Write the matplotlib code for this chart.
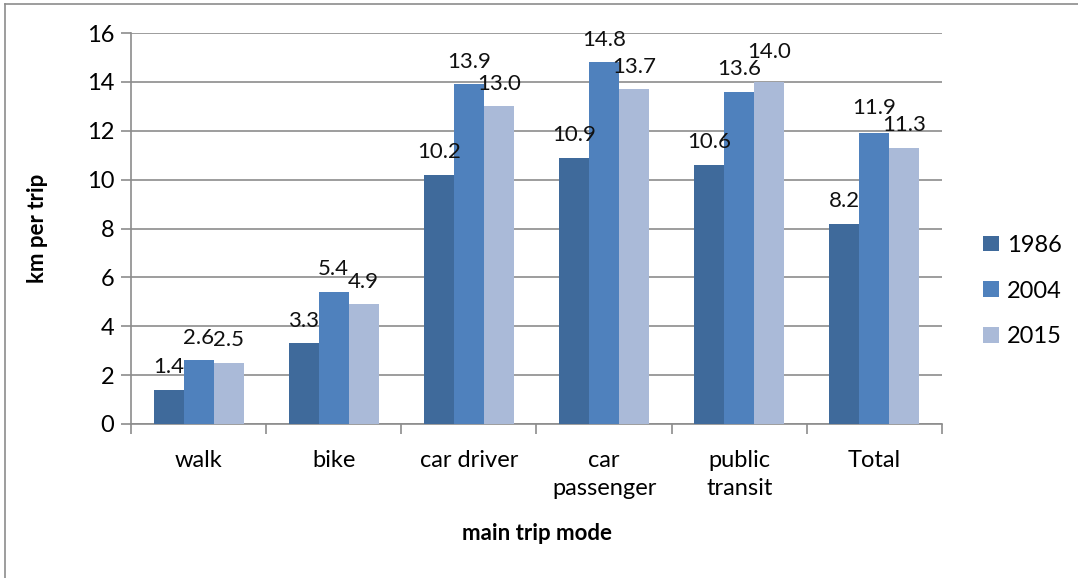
import matplotlib
matplotlib.use("Agg")
import matplotlib.pyplot as plt
from matplotlib.lines import Line2D
import numpy as np

plt.rcParams['font.family'] = ['Lato', 'DejaVu Sans']

categories = ["walk", "bike", "car driver", "car\npassenger", "public\ntransit", "Total"]
years = ["1986", "2004", "2015"]
km_1986 = [1.4, 3.3, 10.2, 10.9, 10.6, 8.2]
km_2004 = [2.6, 5.4, 13.9, 14.8, 13.6, 11.9]
km_2015 = [2.5, 4.9, 13.0, 13.7, 14.0, 11.3]
y_ticks = [0, 2, 4, 6, 8, 10, 12, 14, 16]

colors = ["#3F6A9B", "#4F81BD", "#AABAD8"]
series = [km_1986, km_2004, km_2015]

DPI = 100
fig = plt.figure(figsize=(10.78, 5.78), dpi=DPI)
ax = fig.add_axes([131 / 1078, 1 - 424 / 578, (942 - 131) / 1078, (424 - 33) / 578])

x = np.arange(len(categories))
bw = 0.222
LABEL_OFFSET = 12  # points between bar top and label baseline
groups = [[] for _ in categories]
for i, (vals, col, yr) in enumerate(zip(series, colors, years)):
    pos = x + (i - 1) * bw
    bars = ax.bar(pos, vals, width=bw, color=col, label=yr, zorder=3)
    for g, (b, v) in enumerate(zip(bars, vals)):
        ann = ax.annotate(f"{v:.1f}", (b.get_x() + b.get_width() / 2, v),
                          xytext=(0, LABEL_OFFSET), textcoords="offset points",
                          ha="center", va="baseline", fontsize=16, color="#111111",
                          zorder=4)
        groups[g].append((v, ann))

ax.set_xlim(-0.5, len(categories) - 0.5)
ax.set_ylim(0, 16)
ax.set_yticks(y_ticks)
ax.set_yticklabels([str(t) for t in y_ticks], fontsize=17)
ax.grid(axis="y", color="#8C8C8C", linewidth=1.2, zorder=0)
ax.set_axisbelow(True)

ax.set_xticks(x)
ax.set_xticklabels(categories, fontsize=17, linespacing=1.4, va="top")
ax.tick_params(axis="x", length=0, pad=19)
ax.set_xticks(np.arange(-0.5, len(categories)), minor=True)
ax.tick_params(axis="x", which="minor", length=7, width=1.2, color="#8C8C8C")
ax.tick_params(axis="y", length=7, width=1.2, color="#8C8C8C", pad=5)

for side in ["top", "right"]:
    ax.spines[side].set_visible(False)
for side in ["left", "bottom"]:
    ax.spines[side].set_color("#8C8C8C")
    ax.spines[side].set_linewidth(1.2)

ax.set_ylabel("km per trip", fontsize=16, fontweight="bold", labelpad=28)
ax.set_xlabel("main trip mode", fontsize=16, fontweight="bold", labelpad=17)

leg = fig.legend(loc="center left", bbox_to_anchor=(962 / 1078, 1 - 291 / 578),
                 frameon=False, fontsize=17, handlelength=0.65, handleheight=0.65,
                 labelspacing=1.05, handletextpad=0.35)

# lift a value label when it collides sideways with a lower neighbour's label
fig.canvas.draw()
renderer = fig.canvas.get_renderer()
MIN_SEP_PX = 17
for grp in groups:
    placed = []
    for v, ann in sorted(grp, key=lambda t: t[0]):
        bb = ann.get_window_extent(renderer)
        lift = 0.0
        for obb in placed:
            x_overlap = min(bb.x1, obb.x1) - max(bb.x0, obb.x0)
            sep = (bb.y0 + lift) - obb.y0
            if x_overlap > 3 and sep < MIN_SEP_PX:
                lift += MIN_SEP_PX - sep
        if lift > 0:
            ann.xyann = (0, LABEL_OFFSET + lift * 72 / DPI)
            bb = ann.get_window_extent(renderer)
        placed.append(bb)

# outer chart border
fig.add_artist(Line2D([5 / 1078, 5 / 1078], [0, 1 - 4 / 578], transform=fig.transFigure,
                      color="#8C8C8C", linewidth=1.2))
fig.add_artist(Line2D([5 / 1078, 1], [1 - 4 / 578, 1 - 4 / 578], transform=fig.transFigure,
                      color="#8C8C8C", linewidth=1.2))

fig.savefig("out.png", dpi=DPI)
